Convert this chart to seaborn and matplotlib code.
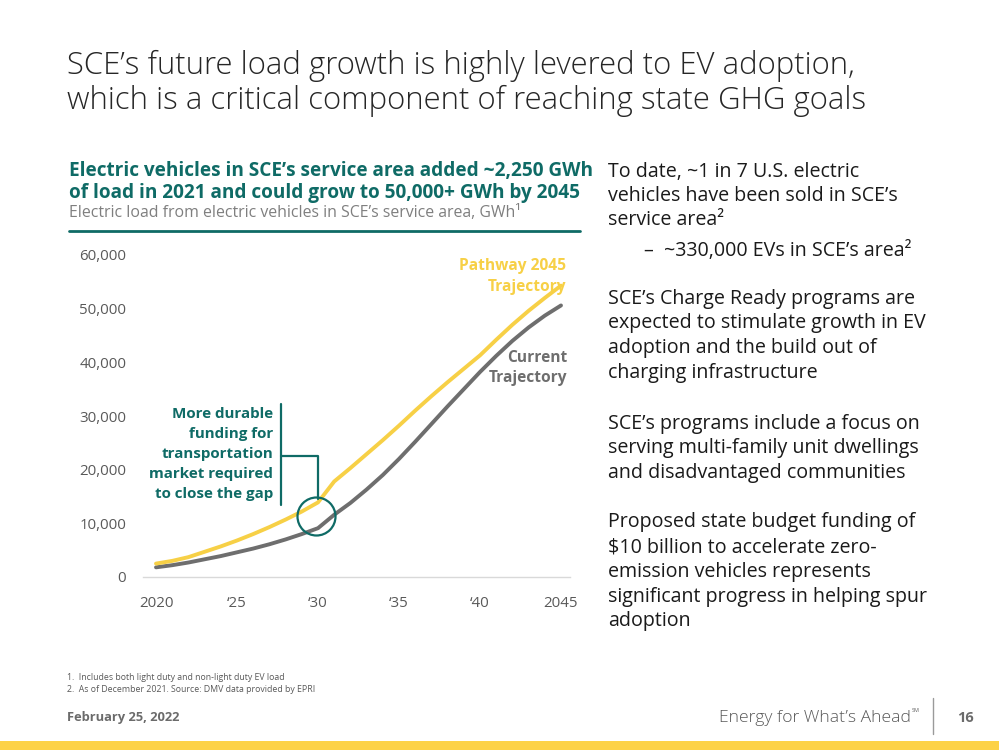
import numpy as np
import pandas as pd
import matplotlib
matplotlib.use("Agg")
import matplotlib.pyplot as plt
import seaborn as sns
from matplotlib.lines import Line2D
from matplotlib.patches import Rectangle, Ellipse

# ---------------- data ----------------
years = list(range(2020, 2046))
current = [1800, 2200, 2700, 3300, 3900, 4600, 5300, 6100, 7000, 8000, 9100,
           11600, 13800, 16300, 19000, 22000, 25200, 28500, 31800, 35000, 38200,
           41200, 44000, 46500, 48700, 50600]
pathway = [2500, 3000, 3700, 4700, 5700, 6800, 8000, 9300, 10700, 12200, 13900,
           17800, 20300, 22900, 25500, 28200, 31000, 33700, 36300, 38800, 41300,
           44200, 47000, 49600, 52000, 54300]
series_names = ["Current Trajectory", "Pathway 2045 Trajectory"]
x_ticks = [2020, 2025, 2030, 2035, 2040, 2045]
x_tick_labels = ["2020", "\u201825", "\u201830", "\u201835", "\u201840", "2045"]
y_ticks = [0, 10000, 20000, 30000, 40000, 50000, 60000]

df = pd.DataFrame({
    "year": years * 2,
    "gwh": current + pathway,
    "series": [series_names[0]] * len(years) + [series_names[1]] * len(years),
})

TEAL = "#0F6B66"
YELLOW = "#F7D046"
DGRAY = "#6E6E6E"
TXT = "#1A1A1A"
LGRAY = "#7F7F7F"

sns.set_style("white")
plt.rcParams["font.family"] = ["Open Sans", "DejaVu Sans"]

W, H = 999, 750
fig = plt.figure(figsize=(W / 100, H / 100), dpi=100)


def T(x, y, s, **kw):
    kw.setdefault("va", "center")
    return fig.text(x / W, 1 - y / H, s, **kw)


# ---------------- chart ----------------
left_px, right_px = 143, 570
bot_px = 577
x0, x1 = 2020, 2045
px0, px1 = 156, 561
ppy = (px1 - px0) / (x1 - x0)
xlim = (x0 - (px0 - left_px) / ppy, x1 + (right_px - px1) / ppy)
ppv = (577 - 255) / 60000
top_val = 61000
top_px = bot_px - top_val * ppv

ax = fig.add_axes([left_px / W, 1 - bot_px / H, (right_px - left_px) / W,
                   (bot_px - top_px) / H])
sns.lineplot(data=df, x="year", y="gwh", hue="series",
             palette={series_names[0]: DGRAY, series_names[1]: YELLOW},
             linewidth=2.8, ax=ax, legend=False)
ax.set_xlim(*xlim)
ax.set_ylim(0, top_val)
ax.set_xlabel("")
ax.set_ylabel("")
ax.set_xticks(x_ticks)
ax.set_xticklabels(x_tick_labels)
ax.set_yticks(y_ticks)
ax.set_yticklabels([f"{v:,}" for v in y_ticks])
ax.tick_params(axis="both", length=0, labelsize=10.8, labelcolor="#595959")
ax.tick_params(axis="x", pad=14)
ax.tick_params(axis="y", pad=12)
for s in ["top", "right", "left"]:
    ax.spines[s].set_visible(False)
ax.spines["bottom"].set_color("#D9D9D9")
ax.spines["bottom"].set_linewidth(1)

# series labels
LBL = 11.2
T(566, 266, "Pathway 2045", ha="right", color=YELLOW, fontsize=LBL, fontweight="bold")
T(566, 287, "Trajectory", ha="right", color=YELLOW, fontsize=LBL, fontweight="bold")
T(567, 358, "Current", ha="right", color=DGRAY, fontsize=LBL, fontweight="bold")
T(567, 378, "Trajectory", ha="right", color=DGRAY, fontsize=LBL, fontweight="bold")

# annotation
ann = ["More durable", "funding for", "transportation", "market required", "to close the gap"]
for i, s in enumerate(ann):
    T(273, 414 + i * 20, s, ha="right", color=TEAL, fontsize=10.9, fontweight="bold")
fig.add_artist(Line2D([281 / W, 281 / W], [1 - 404 / H, 1 - 505 / H], color=TEAL, lw=1.6))
fig.add_artist(Line2D([281 / W, 318 / W, 318 / W], [1 - 456 / H, 1 - 456 / H, 1 - 499 / H],
                      color=TEAL, lw=1.6))
fig.add_artist(Ellipse((316.5 / W, 1 - 516.5 / H), 38 / W, 38 / H, fill=False,
                       edgecolor=TEAL, lw=1.6))

# ---------------- headings ----------------
T(67, 66, "SCE\u2019s future load growth is highly levered to EV adoption,",
  fontsize=22.4, fontweight="light", color="#262626")
T(67, 101, "which is a critical component of reaching state GHG goals",
  fontsize=22.4, fontweight="light", color="#262626")

T(69, 171, "Electric vehicles in SCE\u2019s service area added ~2,250 GWh",
  fontsize=13.7, fontweight="bold", color=TEAL)
T(69, 193, "of load in 2021 and could grow to 50,000+ GWh by 2045",
  fontsize=13.7, fontweight="bold", color=TEAL)
T(69, 213, "Electric load from electric vehicles in SCE\u2019s service area, GWh\u00b9",
  fontsize=11.4, color=LGRAY)
fig.add_artist(Line2D([69 / W, 580 / W], [1 - 231 / H, 1 - 231 / H], color=TEAL, lw=2))

# ---------------- right text ----------------
right_lines = [
    (608, 172, "To date, ~1 in 7 U.S. electric"),
    (608, 196, "vehicles have been sold in SCE\u2019s"),
    (608, 220, "service area\u00b2"),
    (664, 251, "~330,000 EVs in SCE\u2019s area\u00b2"),
    (608, 299, "SCE\u2019s Charge Ready programs are"),
    (608, 323, "expected to stimulate growth in EV"),
    (608, 348, "adoption and the build out of"),
    (608, 373, "charging infrastructure"),
    (608, 424, "SCE\u2019s programs include a focus on"),
    (608, 448, "serving multi-family unit dwellings"),
    (608, 473, "and disadvantaged communities"),
    (608, 522, "Proposed state budget funding of"),
    (608, 547, "$10 billion to accelerate zero-"),
    (608, 572, "emission vehicles represents"),
    (608, 597, "significant progress in helping spur"),
    (608, 621, "adoption"),
]
for x, y, s in right_lines:
    T(x, y, s, fontsize=14.1, color=TXT)
T(643, 251, "\u2013", fontsize=14.1, color=TXT)

# ---------------- footer ----------------
T(67, 678, "1.  Includes both light duty and non-light duty EV load", fontsize=6.3, color="#595959")
T(67, 689, "2.  As of December 2021. Source: DMV data provided by EPRI", fontsize=6.3, color="#595959")
T(67, 718, "February 25, 2022", fontsize=9.3, fontweight="bold", color="#6B6B6B")
T(911, 718, "Energy for What\u2019s Ahead", ha="right", fontsize=12.6, fontweight="light", color="#595959")
T(912, 711, "SM", ha="left", fontsize=4, color="#595959")
fig.add_artist(Line2D([933 / W, 933 / W], [1 - 698 / H, 1 - 734 / H], color="#9A9A9A", lw=1))
T(966, 718, "16", ha="center", fontsize=10.5, fontweight="bold", color="#6B6B6B")
fig.add_artist(Rectangle((0, 0), 1, 9 / H, transform=fig.transFigure,
                         facecolor="#FDD247", edgecolor="none"))

fig.savefig("out.png", dpi=100)
